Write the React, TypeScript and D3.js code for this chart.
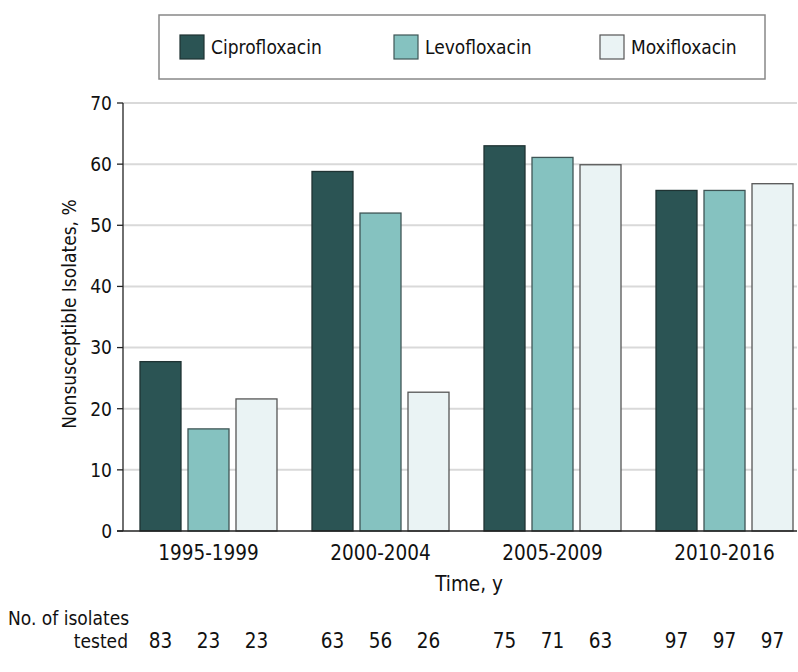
import React from "react";
import * as d3 from "d3";

const periods = ["1995-1999", "2000-2004", "2005-2009", "2010-2016"];
const seriesNames = ["Ciprofloxacin", "Levofloxacin", "Moxifloxacin"];
const ciprofloxacin = [27.7, 58.8, 63.0, 55.7];
const levofloxacin = [16.7, 52.0, 61.1, 55.7];
const moxifloxacin = [21.6, 22.7, 59.9, 56.8];
const countsCipro = [83, 63, 75, 97];
const countsLevo = [23, 56, 71, 97];
const countsMoxi = [23, 26, 63, 97];
const yTicks = [0, 10, 20, 30, 40, 50, 60, 70];

const colors = ["#2b5454", "#85c2c0", "#eaf3f4"];
const strokes = ["#1f3333", "#3f5555", "#555"];
const FONT = "'DejaVu Sans Condensed', 'DejaVu Sans', sans-serif";

export default function App() {
  const W = 798, H = 672;
  const left = 123, plotRight = 797, top = 103, bottom = 531;
  const values = [ciprofloxacin, levofloxacin, moxifloxacin];
  const counts = [countsCipro, countsLevo, countsMoxi];

  const x0 = d3.scaleBand<string>().domain(periods).range([123, 810]).paddingInner(0.2035).paddingOuter(0.0988);
  const x1 = d3.scaleBand<string>().domain(seriesNames).range([0, x0.bandwidth()]).paddingInner(7 / 48).paddingOuter(0);
  const y = d3.scaleLinear().domain([0, 70]).range([bottom, top]);

  const legendX = [180, 394, 600];

  return (
    <svg width={W} height={H} style={{ position: "absolute", left: 0, top: 0, fontFamily: FONT, fontStretch: "condensed" }}>
      {/* legend */}
      <rect x={159} y={15} width={606} height={64} fill="#fff" stroke="#888" strokeWidth={1.5} />
      {seriesNames.map((s, i) => (
        <g key={s}>
          <rect x={legendX[i]} y={35} width={24} height={24} fill={colors[i]} stroke={strokes[i]} strokeWidth={1.2} />
          <text x={legendX[i] + 31} y={53.5} fontSize={19} fill="#111">{s}</text>
        </g>
      ))}
      {/* gridlines */}
      {yTicks.filter(t => t > 0).map(t => (
        <line key={t} x1={left} x2={plotRight} y1={y(t)} y2={y(t)} stroke="#d9d9d9" strokeWidth={2} />
      ))}
      {/* bars */}
      {periods.map((p, gi) => (
        <g key={p} transform={`translate(${x0(p)},0)`}>
          {seriesNames.map((s, si) => (
            <rect key={s} x={x1(s)} y={y(values[si][gi])} width={x1.bandwidth()} height={bottom - y(values[si][gi])}
              fill={colors[si]} stroke={strokes[si]} strokeWidth={1.3} />
          ))}
        </g>
      ))}
      {/* y axis */}
      <line x1={left} x2={left} y1={top} y2={bottom} stroke="#222" strokeWidth={1.3} />
      <line x1={117} x2={plotRight} y1={bottom} y2={bottom} stroke="#222" strokeWidth={1.3} />
      {yTicks.map(t => (
        <g key={t}>
          <line x1={117} x2={left} y1={y(t)} y2={y(t)} stroke="#222" strokeWidth={1.3} />
          <text x={112} y={y(t)} dy="0.36em" textAnchor="end" fontSize={19} fill="#111">{t}</text>
        </g>
      ))}
      <text transform={`translate(76,314) rotate(-90)`} textAnchor="middle" fontSize={19} fill="#111">Nonsusceptible Isolates, %</text>
      {/* x labels */}
      {periods.map(p => (
        <text key={p} x={x0(p)! + x0.bandwidth() / 2} y={560} textAnchor="middle" fontSize={20.5} fill="#111">{p}</text>
      ))}
      <text x={469} y={591} textAnchor="middle" fontSize={20.5} fill="#111">Time, y</text>
      <text x={8} y={625} fontSize={19} fill="#111">No. of isolates</text>
      <text x={128} y={648} textAnchor="end" fontSize={19} fill="#111">tested</text>
      {periods.map((p, gi) => seriesNames.map((s, si) => (
        <text key={p + s} x={x0(p)! + x1(s)! + x1.bandwidth() / 2} y={648} textAnchor="middle" fontSize={20.5} fill="#111">{counts[si][gi]}</text>
      )))}
    </svg>
  );
}
